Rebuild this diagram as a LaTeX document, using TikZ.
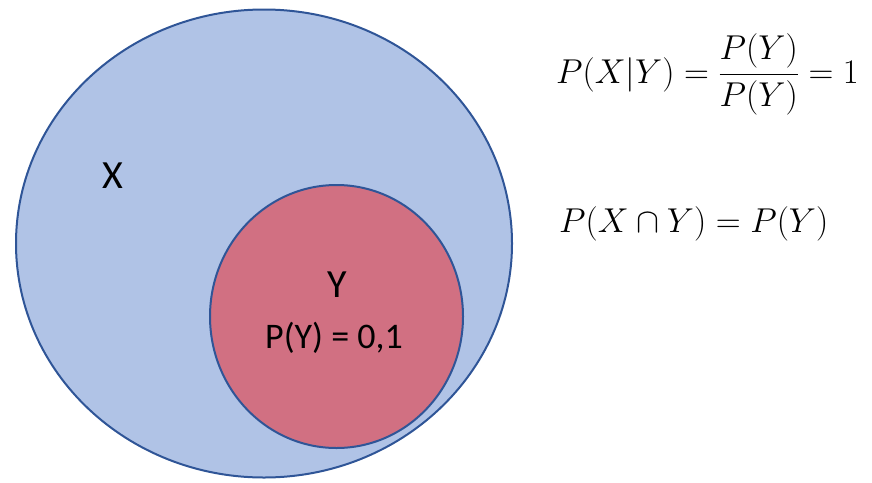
\RequirePackage{fix-cm}
\documentclass[tikz,border=0pt]{standalone}
\usepackage{amsmath}
\usepackage{fontspec}
\setsansfont{Carlito}
\usepackage{xcolor}
\usepackage{tikz}
\usetikzlibrary{positioning}

\definecolor{setblue}{HTML}{B0C3E6}
\definecolor{setred}{HTML}{D17082}
\definecolor{setline}{HTML}{2F5597}

\begin{document}
\begin{tikzpicture}[
  x=1pt, y=-1pt,
  setshape/.style={draw=setline, line width=2pt},
  setlabel/.style={font=\sffamily\fontsize{40}{44}\selectfont, inner sep=0pt},
  problabel/.style={font=\sffamily\fontsize{36}{40}\selectfont, inner sep=0pt},
  formula/.style={font=\fontsize{34.5}{40}\selectfont, anchor=base west, inner sep=0pt}
]
\useasboundingbox (0,0) rectangle (872,482);
% sets
\draw[setshape, fill=setblue] (264,243.5) ellipse [x radius=248, y radius=234];
\draw[setshape, fill=setred] (336.5,316.5) ellipse [x radius=126.5, y radius=131.5];
\node[setlabel] (xlab) at (113,176) {X};
\node[setlabel] (ylab) at (337,285) {Y};
\node[problabel, anchor=base] (plab) at (334,348) {P(Y) = 0,1};
% formulas
\node[formula] (cond) at (556,83) {$P(X|Y)=\dfrac{P(Y)}{P(Y)}=1$};
\node[formula] (inter) at (559,232) {$P(X\cap Y)=P(Y)$};
\end{tikzpicture}
\end{document}
